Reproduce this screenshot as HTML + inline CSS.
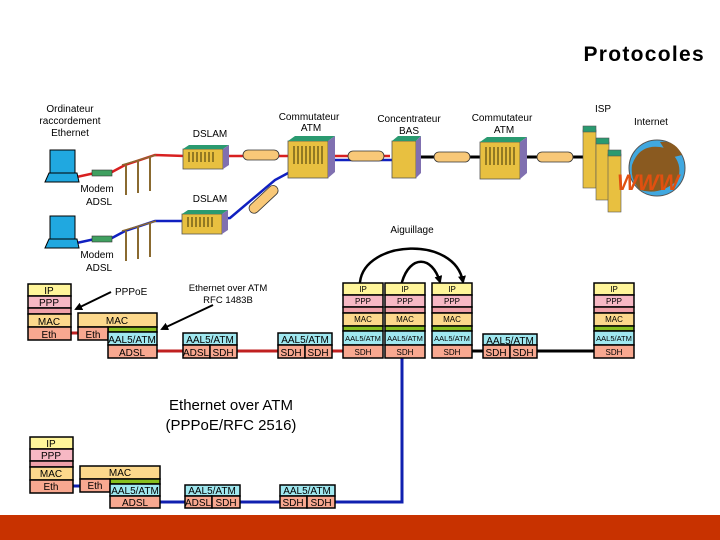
<!DOCTYPE html>
<html><head><meta charset="utf-8"><style>
html,body{margin:0;padding:0;background:#fff}
svg{display:block}
text{font-family:"Liberation Sans",sans-serif}
</style></head><body>
<svg width="720" height="540" viewBox="0 0 720 540" xmlns="http://www.w3.org/2000/svg">
<defs>
<marker id="ah" markerWidth="8" markerHeight="8" refX="6" refY="4" orient="auto" markerUnits="userSpaceOnUse"><path d="M0,0 L8,4 L0,8 z" fill="#000"/></marker>
<g id="dslam"><rect x="0" y="4" width="40" height="20" fill="#e8c040" stroke="#555" stroke-width="0.8"/><path d="M0,4 L6,0 L46,0 L40,4z" fill="#2a9a70"/><path d="M40,4 L46,0 L46,20 L40,24z" fill="#8070b0"/><g stroke="#5a4a10" stroke-width="1.2"><line x1="6" y1="7" x2="6" y2="17"/><line x1="10" y1="7" x2="10" y2="17"/><line x1="14" y1="7" x2="14" y2="17"/><line x1="18" y1="7" x2="18" y2="17"/><line x1="22" y1="7" x2="22" y2="17"/><line x1="26" y1="7" x2="26" y2="17"/><line x1="30" y1="7" x2="30" y2="17"/></g></g>
<g id="sw"><rect x="0" y="5" width="40" height="37" fill="#e8c040" stroke="#555" stroke-width="0.8"/><path d="M0,5 L7,0 L47,0 L40,5z" fill="#2a9a70"/><path d="M40,5 L47,0 L47,36 L40,42z" fill="#8070b0"/><g stroke="#5a4a10" stroke-width="1.2"><line x1="6" y1="10" x2="6" y2="28"/><line x1="10" y1="10" x2="10" y2="28"/><line x1="14" y1="10" x2="14" y2="28"/><line x1="18" y1="10" x2="18" y2="28"/><line x1="22" y1="10" x2="22" y2="28"/><line x1="26" y1="10" x2="26" y2="28"/><line x1="30" y1="10" x2="30" y2="28"/><line x1="34" y1="10" x2="34" y2="28"/></g></g>
<g id="cyl"><rect x="0" y="0" width="36" height="10" rx="5" fill="#f8c878" stroke="#333" stroke-width="0.8"/></g>
<g id="pc"><rect x="5" y="0" width="25" height="24" fill="#20a8e0" stroke="#000"/><path d="M0,32 L4,23 L32,23 L34,32z" fill="#20a8e0" stroke="#000"/></g>
<g id="poles" stroke="#8a6a30" stroke-width="2"><line x1="126" y1="10" x2="126" y2="40"/><line x1="138" y1="6" x2="138" y2="38"/><line x1="150" y1="2" x2="150" y2="36"/><line x1="122" y1="10" x2="156" y2="0" stroke-width="1.5"/></g>
</defs>

<text x="705" y="61" font-size="21" text-anchor="end" font-weight="bold" letter-spacing="1.3">Protocoles</text>

<g font-size="10" text-anchor="middle" fill="#000">
<text x="70" y="112">Ordinateur</text><text x="70" y="124">raccordement</text><text x="70" y="136">Ethernet</text>
<text x="210" y="137">DSLAM</text>
<text x="309" y="120">Commutateur</text><text x="311" y="131">ATM</text>
<text x="409" y="122">Concentrateur</text><text x="409" y="134">BAS</text>
<text x="502" y="121">Commutateur</text><text x="504" y="133">ATM</text>
<text x="603" y="112">ISP</text>
<text x="651" y="125">Internet</text>
<text x="97" y="192">Modem</text><text x="99" y="205">ADSL</text>
<text x="210" y="202">DSLAM</text>
<text x="412" y="233">Aiguillage</text>
<text x="97" y="258">Modem</text><text x="99" y="271">ADSL</text>
</g>
<polyline points="72,178 95,173 112,172 125,165 155,155 185,156 290,156 390,156" fill="none" stroke="#d82020" stroke-width="2.5"/>
<line x1="335" y1="160" x2="392" y2="160" stroke="#1020c0" stroke-width="2.5"/>
<polyline points="72,244 95,239 112,238 125,231 155,221 185,221 230,218 275,180 290,172" fill="none" stroke="#1020c0" stroke-width="2.5"/>
<line x1="420" y1="157" x2="600" y2="157" stroke="#000" stroke-width="3"/>
<use href="#pc" x="45" y="150"/><use href="#pc" x="45" y="216"/>
<rect x="92" y="170" width="20" height="6" fill="#40a060" stroke="#333" stroke-width="0.6"/>
<rect x="92" y="236" width="20" height="6" fill="#40a060" stroke="#333" stroke-width="0.6"/>
<use href="#poles" x="0" y="155"/><use href="#poles" x="0" y="221"/>
<use href="#dslam" x="183" y="145"/><use href="#dslam" x="182" y="210"/>
<use href="#cyl" x="243" y="150"/>
<use href="#cyl" transform="translate(247,208) rotate(-43)"/>
<use href="#sw" x="288" y="136"/>
<use href="#cyl" x="348" y="151"/>
<g><rect x="392" y="141" width="24" height="37" fill="#e8c040" stroke="#555" stroke-width="0.8"/><path d="M392,141 L398,136 L421,136 L416,141z" fill="#2a9a70"/><path d="M416,141 L421,136 L421,173 L416,178z" fill="#8070b0"/></g>
<use href="#cyl" x="434" y="152"/>
<use href="#sw" x="480" y="137"/>
<use href="#cyl" x="537" y="152"/>
<circle cx="657" cy="168" r="28" fill="#40a8e0" stroke="#555"/>
<path d="M632,165 Q640,142 665,148 Q684,160 678,180 Q660,196 640,190 Q630,180 632,165z" fill="#8a5a20"/>
<path d="M660,142 Q675,140 682,155 L670,158z" fill="#8a5a20"/>
<g stroke="#555" stroke-width="0.6"><rect x="583" y="130" width="13" height="58" fill="#e8c040"/><rect x="583" y="126" width="13" height="6" fill="#2a9a70"/>
<rect x="596" y="142" width="13" height="58" fill="#e8c040"/><rect x="596" y="138" width="13" height="6" fill="#2a9a70"/>
<rect x="608" y="154" width="13" height="58" fill="#e8c040"/><rect x="608" y="150" width="13" height="6" fill="#2a9a70"/></g>
<text x="617" y="190" font-size="22" font-weight="bold" fill="#e05010" font-style="italic">WWW</text>

<text x="115" y="295" font-size="10">PPPoE</text>
<line x1="111" y1="292" x2="76" y2="309" stroke="#000" stroke-width="2" marker-end="url(#ah)"/>
<text x="228" y="291" font-size="9.5" text-anchor="middle">Ethernet over ATM</text>
<text x="228" y="303" font-size="9.5" text-anchor="middle">RFC 1483B</text>
<line x1="213" y1="305" x2="162" y2="329" stroke="#000" stroke-width="2" marker-end="url(#ah)"/>
<path d="M360,282 C365,240 455,235 463,282" fill="none" stroke="#000" stroke-width="2.5" marker-end="url(#ah)" marker-start="url(#ah)"/>
<path d="M402,282 C410,255 432,255 440,282" fill="none" stroke="#000" stroke-width="2.5" marker-end="url(#ah)" marker-start="url(#ah)"/>

<line x1="71" y1="333" x2="78" y2="333" stroke="#c02020" stroke-width="3"/>
<line x1="157" y1="351" x2="343" y2="351" stroke="#c02020" stroke-width="3"/>
<line x1="472" y1="351" x2="594" y2="351" stroke="#000" stroke-width="3"/>
<polyline points="160,502 402,502 402,358" fill="none" stroke="#1020b0" stroke-width="3"/>
<line x1="73" y1="486" x2="80" y2="486" stroke="#1020b0" stroke-width="3"/>

<g stroke="#000" stroke-width="1.5" font-size="10" text-anchor="middle">
<rect x="28" y="284" width="43" height="12" fill="#fff59a"/><rect x="28" y="296" width="43" height="12" fill="#f7b8c4"/><rect x="28" y="308" width="43" height="6" fill="#f0a0a8"/><rect x="28" y="314" width="43" height="13" fill="#fcd88c"/><rect x="28" y="327" width="43" height="13" fill="#f8a890"/>
<rect x="78" y="313" width="79" height="14" fill="#fcd88c"/><rect x="108" y="327" width="49" height="5" fill="#88c020"/><rect x="78" y="327" width="30" height="13" fill="#f8a890"/><rect x="108" y="332" width="49" height="13" fill="#a0e8f0"/><rect x="108" y="345" width="49" height="13" fill="#f8a890"/>
<rect x="183" y="333" width="54" height="12" fill="#a0e8f0"/><rect x="183" y="345" width="27" height="13" fill="#f8a890"/><rect x="210" y="345" width="27" height="13" fill="#f8a890"/>
<rect x="278" y="333" width="54" height="12" fill="#a0e8f0"/><rect x="278" y="345" width="27" height="13" fill="#f8a890"/><rect x="305" y="345" width="27" height="13" fill="#f8a890"/>
<g id="rs"><rect x="343" y="283" width="40" height="12" fill="#fff59a"/><rect x="343" y="295" width="40" height="12" fill="#f7b8c4"/><rect x="343" y="307" width="40" height="6" fill="#f0a0a8"/><rect x="343" y="313" width="40" height="13" fill="#fcd88c"/><rect x="343" y="326" width="40" height="5" fill="#88c020"/><rect x="343" y="331" width="40" height="14" fill="#a0e8f0"/><rect x="343" y="345" width="40" height="13" fill="#f8a890"/></g>
<use href="#rs" x="42"/><use href="#rs" x="89"/><use href="#rs" x="251"/>
<rect x="483" y="334" width="54" height="11" fill="#a0e8f0"/><rect x="483" y="345" width="27" height="13" fill="#f8a890"/><rect x="510" y="345" width="27" height="13" fill="#f8a890"/>
<rect x="30" y="437" width="43" height="12" fill="#fff59a"/><rect x="30" y="449" width="43" height="12" fill="#f7b8c4"/><rect x="30" y="461" width="43" height="6" fill="#f0a0a8"/><rect x="30" y="467" width="43" height="13" fill="#fcd88c"/><rect x="30" y="480" width="43" height="13" fill="#f8a890"/>
<rect x="80" y="466" width="80" height="13" fill="#fcd88c"/><rect x="110" y="479" width="50" height="5" fill="#88c020"/><rect x="80" y="479" width="30" height="13" fill="#f8a890"/><rect x="110" y="484" width="50" height="12" fill="#a0e8f0"/><rect x="110" y="496" width="50" height="12" fill="#f8a890"/>
<rect x="185" y="485" width="55" height="11" fill="#a0e8f0"/><rect x="185" y="496" width="27" height="12" fill="#f8a890"/><rect x="212" y="496" width="28" height="12" fill="#f8a890"/>
<rect x="280" y="485" width="55" height="11" fill="#a0e8f0"/><rect x="280" y="496" width="27" height="12" fill="#f8a890"/><rect x="307" y="496" width="28" height="12" fill="#f8a890"/>
</g>
<g font-size="10" text-anchor="middle" fill="#000">
<text x="49" y="294">IP</text><text x="49" y="306">PPP</text><text x="49" y="325">MAC</text><text x="49" y="338">Eth</text>
<text x="117" y="324">MAC</text><text x="93" y="338">Eth</text><text x="132" y="343">AAL5/ATM</text><text x="132" y="356">ADSL</text>
<text x="210" y="343">AAL5/ATM</text><text x="196" y="356">ADSL</text><text x="223" y="356">SDH</text>
<text x="305" y="343">AAL5/ATM</text><text x="291" y="356">SDH</text><text x="318" y="356">SDH</text>
<text x="510" y="344">AAL5/ATM</text><text x="496" y="356">SDH</text><text x="523" y="356">SDH</text>
<text x="51" y="447">IP</text><text x="51" y="459">PPP</text><text x="51" y="477">MAC</text><text x="51" y="490">Eth</text>
<text x="120" y="476">MAC</text><text x="95" y="489">Eth</text><text x="135" y="494">AAL5/ATM</text><text x="135" y="506">ADSL</text>
<text x="212" y="494">AAL5/ATM</text><text x="198" y="506">ADSL</text><text x="226" y="506">SDH</text>
<text x="307" y="494">AAL5/ATM</text><text x="293" y="506">SDH</text><text x="321" y="506">SDH</text>
</g>
<g font-size="8" text-anchor="middle" fill="#000">
<g id="rt"><text x="363" y="292">IP</text><text x="363" y="304">PPP</text><text x="363" y="322">MAC</text><text x="363" y="341" font-size="7.5">AAL5/ATM</text><text x="363" y="355">SDH</text></g>
<use href="#rt" x="42"/><use href="#rt" x="89"/><use href="#rt" x="251"/>
</g>
<text x="231" y="410" font-size="15" text-anchor="middle">Ethernet over ATM</text>
<text x="231" y="430" font-size="15" text-anchor="middle">(PPPoE/RFC 2516)</text>
<rect x="0" y="515" width="720" height="25" fill="#c83200"/>
</svg>
</body></html>
